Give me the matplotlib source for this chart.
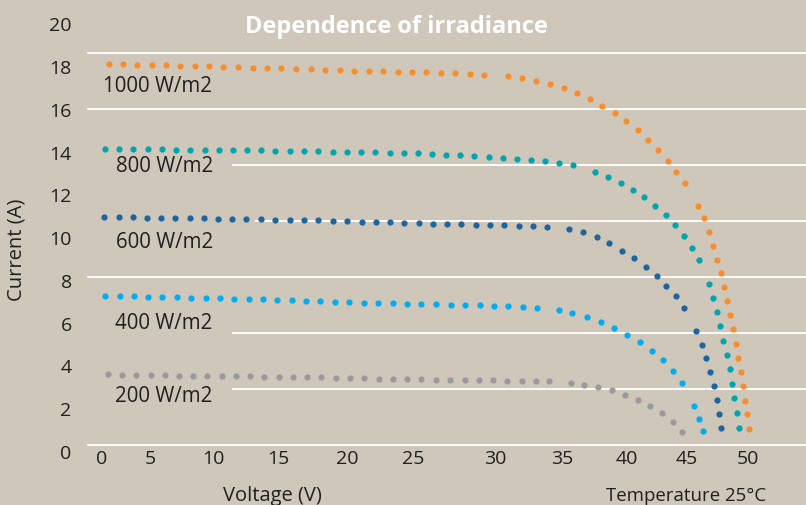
import matplotlib
matplotlib.use("Agg")
import matplotlib.pyplot as plt

plt.rcParams['font.family'] = ['Open Sans', 'DejaVu Sans']

# I-V curves at 25 C
v_1000 = [0.56, 1.65, 2.75, 3.87, 5.00, 6.08, 7.22, 8.30, 9.40, 10.54, 11.68, 12.78, 13.89,
          15.03, 16.16, 17.29, 18.41, 19.51, 20.65, 21.78, 22.89, 23.98, 25.10, 26.22, 27.32,
          28.46, 29.57, 31.42, 32.51, 33.59, 34.67, 35.72, 36.76, 37.79, 38.72, 39.70, 40.57,
          41.45, 42.27, 43.05, 43.77, 44.44, 45.11, 46.14, 46.56, 46.97, 47.28, 47.60, 47.87,
          48.13, 48.38, 48.62, 48.82, 49.03, 49.23, 49.42, 49.57, 49.75, 49.88, 50.04]
i_1000 = [18.08, 18.08, 18.06, 18.05, 18.03, 18.02, 18.00, 17.99, 17.97, 17.96, 17.92, 17.91,
          17.89, 17.88, 17.86, 17.83, 17.80, 17.78, 17.77, 17.75, 17.74, 17.72, 17.71, 17.67,
          17.66, 17.63, 17.59, 17.52, 17.44, 17.32, 17.17, 16.97, 16.72, 16.46, 16.14, 15.80,
          15.41, 14.99, 14.55, 14.09, 13.57, 13.06, 12.51, 11.46, 10.88, 10.22, 9.59, 8.94,
          8.30, 7.65, 6.99, 6.34, 5.68, 4.99, 4.35, 3.68, 3.03, 2.34, 1.70, 1.03]

v_800 = [0.28, 1.36, 2.44, 3.56, 4.64, 5.75, 6.85, 7.97, 9.05, 10.13, 11.21, 12.32, 13.43,
         14.54, 15.62, 16.73, 17.85, 18.95, 20.05, 21.16, 22.27, 23.34, 24.44, 25.55, 26.63,
         27.73, 28.82, 29.93, 31.01, 32.12, 33.20, 34.31, 35.39, 36.47, 38.15, 39.16, 40.14,
         41.07, 41.96, 42.82, 43.62, 44.36, 45.04, 45.65, 46.20, 46.93, 47.25, 47.56, 47.82,
         48.07, 48.34, 48.57, 48.75, 48.93, 49.11, 49.27]
i_800 = [14.12, 14.12, 14.10, 14.10, 14.10, 14.09, 14.09, 14.09, 14.07, 14.07, 14.07, 14.06,
         14.04, 14.04, 14.02, 14.02, 14.00, 13.99, 13.98, 13.96, 13.94, 13.92, 13.91, 13.87,
         13.85, 13.82, 13.80, 13.76, 13.72, 13.67, 13.61, 13.54, 13.46, 13.36, 13.06, 12.82,
         12.54, 12.21, 11.86, 11.46, 11.03, 10.55, 10.06, 9.49, 8.94, 7.80, 7.16, 6.49, 5.82,
         5.15, 4.46, 3.81, 3.14, 2.45, 1.76, 1.08]

v_600 = [0.20, 1.31, 2.40, 3.50, 4.59, 5.69, 6.81, 7.91, 8.99, 10.08, 11.18, 12.32, 13.43,
         14.54, 15.65, 16.75, 17.87, 18.97, 20.11, 21.21, 22.32, 23.40, 24.50, 25.62, 26.71,
         27.81, 28.93, 30.03, 31.14, 32.24, 33.33, 34.44, 36.16, 37.22, 38.28, 39.26, 40.22,
         41.17, 42.06, 42.91, 43.67, 44.39, 45.06, 45.99, 46.43, 46.76, 47.07, 47.33, 47.56,
         47.74, 47.90]
i_600 = [10.92, 10.92, 10.92, 10.90, 10.90, 10.89, 10.87, 10.87, 10.86, 10.86, 10.84, 10.83,
         10.81, 10.81, 10.80, 10.78, 10.76, 10.73, 10.72, 10.70, 10.69, 10.67, 10.65, 10.63,
         10.62, 10.60, 10.58, 10.57, 10.55, 10.53, 10.51, 10.49, 10.37, 10.22, 9.99, 9.71,
         9.37, 9.02, 8.61, 8.17, 7.71, 7.22, 6.66, 5.59, 4.96, 4.34, 3.68, 3.04, 2.36, 1.72,
         1.06]

v_400 = [0.28, 1.39, 2.47, 3.60, 4.69, 5.80, 6.93, 8.04, 9.15, 10.26, 11.37, 12.47, 13.58,
         14.69, 15.80, 16.91, 18.02, 19.13, 20.25, 21.37, 22.49, 23.61, 24.73, 25.85, 26.98,
         28.10, 29.22, 30.34, 31.46, 32.58, 33.67, 35.34, 36.37, 37.53, 38.59, 39.62, 40.65,
         41.63, 42.58, 43.43, 44.21, 44.90, 45.79, 46.19, 46.53]
i_400 = [7.25, 7.24, 7.22, 7.21, 7.19, 7.18, 7.16, 7.15, 7.13, 7.11, 7.10, 7.08, 7.07, 7.05,
         7.02, 7.01, 6.97, 6.95, 6.93, 6.91, 6.90, 6.88, 6.86, 6.85, 6.84, 6.82, 6.80, 6.79,
         6.76, 6.73, 6.70, 6.57, 6.44, 6.26, 6.02, 5.74, 5.41, 5.07, 4.67, 4.23, 3.73, 3.17,
         2.11, 1.48, 0.92]

v_200 = [0.51, 1.59, 2.68, 3.79, 4.87, 5.98, 7.08, 8.17, 9.28, 10.39, 11.47, 12.58, 13.69,
         14.77, 15.88, 16.96, 18.08, 19.20, 20.29, 21.41, 22.53, 23.61, 24.73, 25.85, 26.94,
         28.06, 29.18, 30.26, 31.38, 32.51, 33.59, 34.63, 36.27, 37.32, 38.41, 39.44, 40.47,
         41.48, 42.43, 43.36, 44.18, 44.90]
i_200 = [3.58, 3.56, 3.54, 3.53, 3.53, 3.51, 3.51, 3.50, 3.50, 3.48, 3.48, 3.46, 3.46, 3.45,
         3.44, 3.43, 3.42, 3.40, 3.39, 3.38, 3.37, 3.36, 3.35, 3.33, 3.32, 3.31, 3.30, 3.29,
         3.28, 3.26, 3.25, 3.24, 3.17, 3.09, 2.98, 2.83, 2.62, 2.39, 2.11, 1.76, 1.36, 0.88]

series_labels = ['1000 W/m2', '800 W/m2', '600 W/m2', '400 W/m2', '200 W/m2']
colors = ['#f68d2e', '#00a4ad', '#20649e', '#00adee', '#9a999e']

y_ticks = [0, 2, 4, 6, 8, 10, 12, 14, 16, 18, 20]
x_tick_labels = ['0', '5', '10', '15', '20', '25', '30', '35', '40', '45', '50']

# layout (the picture places ticks and grid irregularly)
x_tick_pos = [0, 3.79, 8.63, 13.64, 18.97, 24.08, 30.43, 35.58, 40.60, 45.24, 50.0]
grid_y = [0.27, 2.89, 5.51, 8.13, 10.75, 13.37, 15.99, 18.61]
grid_x0 = [-1.14, 10.09, 10.09, -1.14, 11.86, 10.09, -1.14, -1.14]
label_xy = [(0.08, 17.07), (1.10, 13.34), (1.10, 9.81), (1.05, 6.01), (1.05, 2.57)]

bg = '#d0c7bb'
W, H = 806, 506
fig = plt.figure(figsize=(W / 100, H / 100), dpi=100, facecolor=bg)
ax = fig.add_axes([87 / W, 0, 1 - 87 / W, 1])
ax.set_facecolor(bg)
ax.set_xlim(-1.14, 54.47)
ax.set_ylim(-2.54, 21.14)
for s in ax.spines.values():
    s.set_visible(False)

ax.hlines(grid_y, grid_x0, 54.47, color='white', lw=1.3, zorder=1)

curves = [(v_1000, i_1000), (v_800, i_800), (v_600, i_600), (v_400, i_400), (v_200, i_200)]
for (v, i), c in zip(curves, colors):
    ax.plot(v, i, 'o', color=c, ms=4.5, mew=0, zorder=3)

for lab, (x, y) in zip(series_labels, label_xy):
    ax.text(x, y, lab, fontsize=14.8, color='#231f20', va='center', ha='left')

ax.set_yticks(y_ticks)
ax.set_yticklabels([str(t) for t in y_ticks])
ax.tick_params(axis='y', length=0, pad=11, labelsize=14, labelcolor='#231f20')
ax.set_xticks([])
for lab, x in zip(x_tick_labels, x_tick_pos):
    ax.text(x, -0.34, lab, fontsize=14, color='#231f20', ha='center', va='center')

fig.text(396 / W, 1 - 27 / H, 'Dependence of irradiance', color='white',
         fontsize=17, fontweight='bold', ha='center', va='center')
fig.text(17 / W, 1 - 250 / H, 'Current (A)', rotation=90, fontsize=14.5,
         color='#231f20', ha='center', va='center')
fig.text(272 / W, 1 - 496 / H, 'Voltage (V)', fontsize=14.5,
         color='#231f20', ha='center', va='center')
fig.text(686 / W, 1 - 496 / H, 'Temperature 25°C', fontsize=13.4,
         color='#231f20', ha='center', va='center')

fig.savefig('out.png', dpi=100, facecolor=bg)
